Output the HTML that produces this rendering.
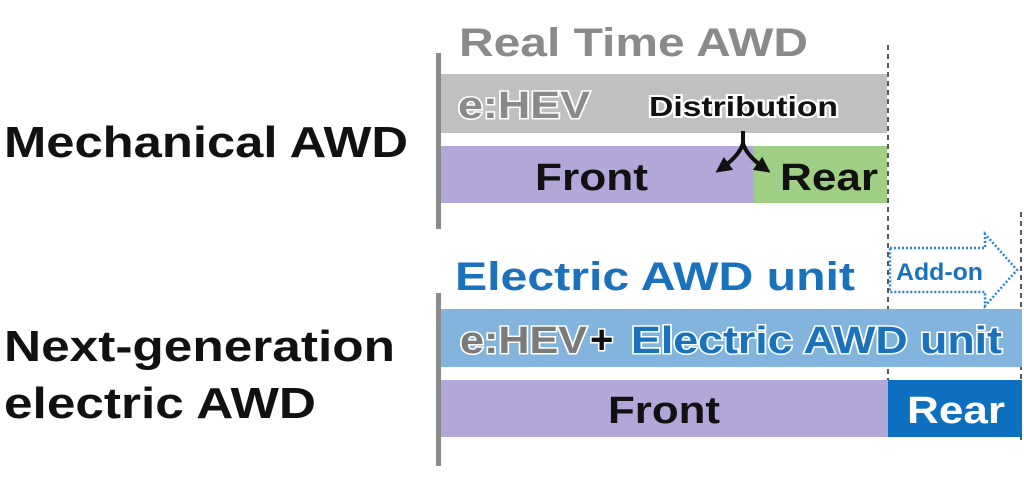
<!DOCTYPE html>
<html><head><style>
html,body{margin:0;padding:0;background:#fff;width:1024px;height:499px;overflow:hidden}
svg{display:block}
text{font-family:"Liberation Sans",sans-serif;font-weight:bold}
</style></head><body>
<svg width="1024" height="499" viewBox="0 0 1024 499" xmlns="http://www.w3.org/2000/svg">
<defs>
<marker id="ah" markerWidth="4" markerHeight="4" refX="2" refY="2" orient="auto" markerUnits="strokeWidth">
<path d="M0,0 L4,2 L0,4 Z" fill="#111"/></marker>
</defs>
<text x="4" y="157" font-size="44" fill="#111" textLength="404" lengthAdjust="spacingAndGlyphs">Mechanical AWD</text>
<text x="4" y="361" font-size="44" fill="#111" textLength="391" lengthAdjust="spacingAndGlyphs">Next-generation</text>
<text x="4" y="418" font-size="44" fill="#111" textLength="312" lengthAdjust="spacingAndGlyphs">electric AWD</text>

<text x="459" y="56" font-size="40" fill="#8a8a8a" textLength="349" lengthAdjust="spacingAndGlyphs">Real Time AWD</text>
<rect x="436" y="53" width="5" height="176" fill="#8a8a8a"/>
<rect x="441" y="74" width="446" height="59" fill="#c0c0c0"/>
<text x="458" y="118" font-size="38" fill="#8a8a8a" stroke="#fff" stroke-width="3" paint-order="stroke" textLength="132" lengthAdjust="spacingAndGlyphs">e:HEV</text>
<text x="649" y="116" font-size="28" fill="#111" stroke="#fff" stroke-width="4" paint-order="stroke" textLength="189" lengthAdjust="spacingAndGlyphs">Distribution</text>
<rect x="441" y="146" width="313" height="57" fill="#b3a6d8"/>
<rect x="754" y="146" width="133" height="57" fill="#9fcf85"/>
<text x="535" y="190" font-size="38" fill="#111" textLength="113" lengthAdjust="spacingAndGlyphs">Front</text>
<text x="780" y="190" font-size="38" fill="#111" textLength="98" lengthAdjust="spacingAndGlyphs">Rear</text>
<path d="M743,131 L743,143 Q740,155 722,168" fill="none" stroke="#111" stroke-width="4" marker-end="url(#ah)"/>
<path d="M743,131 L743,143 Q746,155 764,168" fill="none" stroke="#111" stroke-width="4" marker-end="url(#ah)"/>
<line x1="888" y1="45" x2="888" y2="440" stroke="#222" stroke-width="1.5" stroke-dasharray="5,4"/>
<line x1="1021" y1="212" x2="1021" y2="440" stroke="#222" stroke-width="1.5" stroke-dasharray="5,4"/>

<text x="455" y="290" font-size="40" fill="#1a72bd" textLength="400" lengthAdjust="spacingAndGlyphs">Electric AWD unit</text>
<path d="M890,248 L985,248 L985,234 L1017,270 L985,306 L985,292 L890,292 Z" fill="#fff" stroke="#2a86c8" stroke-width="2.5" stroke-dasharray="2,2"/>
<text x="896" y="280" font-size="24" fill="#1a72bd" textLength="87" lengthAdjust="spacingAndGlyphs">Add-on</text>
<rect x="436" y="293" width="5" height="173" fill="#8a8a8a"/>
<rect x="441" y="309" width="581" height="58" fill="#83b4de"/>
<text x="460" y="353" font-size="38" fill="#7a7a7a" stroke="#fff" stroke-width="3" paint-order="stroke" textLength="127" lengthAdjust="spacingAndGlyphs">e:HEV</text>
<text x="590" y="353" font-size="40" fill="#111" stroke="#fff" stroke-width="3" paint-order="stroke">+</text>
<text x="631" y="353" font-size="38" fill="#1a72bd" stroke="#fff" stroke-width="3" paint-order="stroke" textLength="371" lengthAdjust="spacingAndGlyphs">Electric AWD unit</text>
<rect x="441" y="380" width="447" height="57" fill="#b3a6d8"/>
<rect x="888" y="380" width="134" height="57" fill="#0d6fc0"/>
<text x="608" y="423" font-size="38" fill="#111" textLength="112" lengthAdjust="spacingAndGlyphs">Front</text>
<text x="907" y="423" font-size="38" fill="#fff" textLength="98" lengthAdjust="spacingAndGlyphs">Rear</text>
</svg>
</body></html>
